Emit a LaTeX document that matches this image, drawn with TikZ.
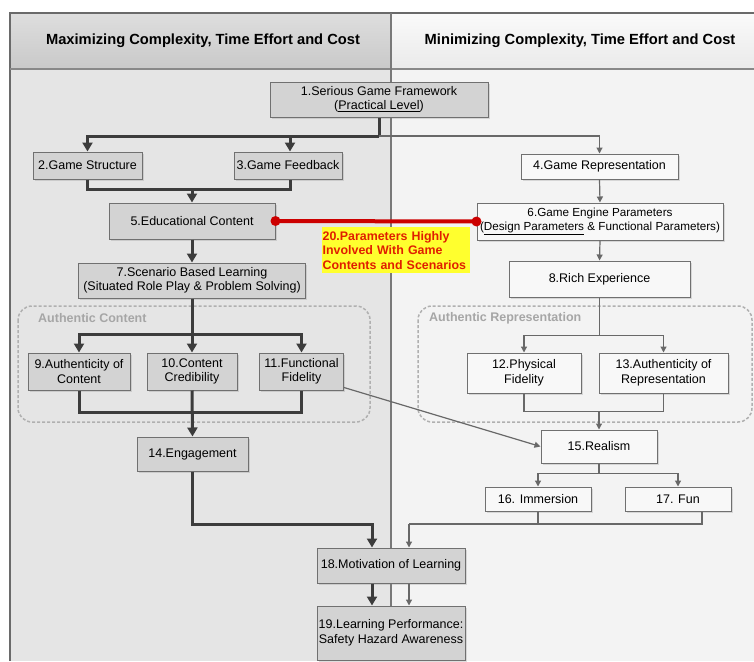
\documentclass[tikz,border=0pt]{standalone}
\usepackage{fontspec}
\setmainfont{Liberation Sans}
\usetikzlibrary{arrows.meta,shadows,calc}
\definecolor{leftbg}{HTML}{E5E5E5}
\definecolor{rightbg}{HTML}{F3F3F3}
\definecolor{lfill}{HTML}{D3D3D3}
\definecolor{rfill}{HTML}{F8F8F8}
\definecolor{boxline}{HTML}{707070}
\definecolor{thkcol}{HTML}{3C3C3C}
\definecolor{thncol}{HTML}{686868}
\definecolor{framecol}{HTML}{6A6A6A}
\definecolor{dashcol}{HTML}{B0B0B0}
\definecolor{grouptext}{HTML}{A6A6A6}
\definecolor{redline}{HTML}{CC0000}
\definecolor{redtext}{HTML}{E01E00}
\definecolor{labelyellow}{HTML}{FFFF2E}
\definecolor{hltop}{HTML}{DEDEDE}
\definecolor{hlbot}{HTML}{C9C9C9}
\definecolor{hrtop}{HTML}{FAFAFA}
\definecolor{hrbot}{HTML}{EAEAEA}
\tikzset{
  basebox/.style={draw=boxline, line width=1pt, inner sep=0pt, align=center,
    font=\fontsize{12.5pt}{14.5pt}\selectfont,
    drop shadow={shadow xshift=1.5pt, shadow yshift=-1.5pt, opacity=0.25}},
  lbox/.style={basebox, fill=lfill},
  rbox/.style={basebox, fill=rfill},
  thk/.style={draw=thkcol, line width=3pt},
  thkarrow/.style={thk, -{Triangle[length=9pt,width=10pt]}},
  thn/.style={draw=thncol, line width=1.2pt},
  thnarrow/.style={thn, -{Triangle[length=6pt,width=6pt]}},
  groupbox/.style={draw=dashcol, line width=1.5pt, dash pattern=on 3pt off 2pt, rounded corners=14pt},
  grouplabel/.style={anchor=west, text=grouptext, font=\fontsize{12.5pt}{14pt}\selectfont\bfseries, inner sep=0pt},
  headtext/.style={font=\fontsize{14.7pt}{16pt}\selectfont\bfseries, inner sep=0pt}
}
\begin{document}
\begin{tikzpicture}[x=1pt,y=-1pt]
\useasboundingbox (0,0) rectangle (754,661);
% panels
\fill[white] (0,0) rectangle (754,661);
\fill[leftbg] (10,69) rectangle (391,661);
\fill[rightbg] (391,69) rectangle (754,661);
\shade[top color=hltop, bottom color=hlbot] (10,13) rectangle (391,69);
\shade[top color=hrtop, bottom color=hrbot] (391,13) rectangle (754,69);
\draw[framecol, line width=1.5pt] (10,661) -- (10,13) -- (754,13);
\draw[framecol!80, line width=1.2pt] (10,69) -- (754,69);
\draw[framecol!90, line width=1.5pt] (391,13) -- (391,661);
\node[headtext] (hl) at (203,41) {Maximizing Complexity, Time Effort and Cost};
\node[headtext] (hr) at (580,41) {Minimizing Complexity, Time Effort and Cost};
% groups
\draw[groupbox] (18,306) rectangle (370,422);
\node[grouplabel] (gl) at (38,318) {Authentic Content};
\draw[groupbox] (418,306) rectangle (752,422);
\node[grouplabel] (gr) at (429,318) {Authentic Representation};
% nodes
\node[lbox, minimum width=218pt, minimum height=35pt] (n1) at (379,99.5) {1.Serious Game Framework\\(\underline{Practical Level})};
\node[lbox, minimum width=109pt, minimum height=27pt] (n2) at (87.5,165.5) {2.Game Structure};
\node[lbox, minimum width=108pt, minimum height=27pt] (n3) at (288,165.5) {3.Game Feedback};
\node[rbox, minimum width=157pt, minimum height=25pt] (n4) at (599.5,166.5) {4.Game Representation};
\node[lbox, minimum width=166pt, minimum height=36pt] (n5) at (192,221) {5.Educational Content};
\node[rbox, minimum width=246pt, minimum height=37pt, font=\fontsize{11.7pt}{14pt}\selectfont] (n6) at (600,221.5) {6.Game Engine Parameters\\(\underline{Design Parameters} \& Functional Parameters)};
\node[lbox, minimum width=227pt, minimum height=35pt] (n7) at (192,280.5) {7.Scenario Based Learning\\(Situated Role Play \& Problem Solving)};
\node[rbox, minimum width=181pt, minimum height=36pt] (n8) at (599.5,279) {8.Rich Experience};
\node[lbox, minimum width=102pt, minimum height=37pt] (n9) at (79,371.5) {9.Authenticity of\\Content};
\node[lbox, minimum width=90pt, minimum height=37pt] (n10) at (192,371.5) {10.Content\\Credibility};
\node[lbox, minimum width=84pt, minimum height=37pt] (n11) at (301.5,371.5) {11.Functional\\Fidelity};
\node[rbox, minimum width=114pt, minimum height=40pt] (n12) at (524,373) {12.Physical\\Fidelity};
\node[rbox, minimum width=129pt, minimum height=40pt] (n13) at (663.5,373) {13.Authenticity of\\Representation};
\node[lbox, minimum width=111pt, minimum height=34pt] (n14) at (192.5,454) {14.Engagement};
\node[rbox, minimum width=116pt, minimum height=33pt] (n15) at (599,446.5) {15.Realism};
\node[rbox, minimum width=106pt, minimum height=24pt] (n16) at (538,499) {16. Immersion};
\node[rbox, minimum width=106pt, minimum height=24pt] (n17) at (678,499) {17. Fun};
\node[lbox, minimum width=148pt, minimum height=35pt] (n18) at (391,565.5) {18.Motivation of Learning};
\node[lbox, minimum width=148pt, minimum height=54pt] (n19) at (391,633) {19.Learning Performance:\\Safety Hazard Awareness};
% label 20
\node[fill=labelyellow, text=redtext, align=left, anchor=north west, inner xsep=0.5pt, inner ysep=2pt,
  minimum height=46pt, text width=147pt,
  font=\fontsize{12.4pt}{14.5pt}\selectfont\bfseries] (lab20) at (322,227)
  {20.Parameters Highly\\Involved With Game\\Contents and Scenarios};
% left thick connectors
\draw[thk] (n1.south) -- ++(0,18.5) coordinate (j1);
\draw[thnarrow] (j1) -| (n4.north);
\draw[thkarrow] (j1) -| (n2.north);
\draw[thkarrow] (j1) -| ([xshift=2pt]n3.north);
\draw[thk] (n2.south) -- ++(0,10) coordinate (j2) -| ([xshift=2pt]n3.south);
\draw[thkarrow] (j2 -| n5.north) -- (n5.north);
\draw[thkarrow] (n5.south) -- (n7.north);
\draw[thk] (n7.south) -- ++(0,36) coordinate (j3);
\draw[thkarrow] (j3) -| (n9.north);
\draw[thkarrow] (j3) -| (n11.north);
\draw[thkarrow] (j3) -- (n10.north);
\draw[thk] (n9.south) -- ++(0,22) coordinate (j4) -| (n11.south);
\draw[thkarrow] (n10.south) -- (n14.north);
\coordinate (j5) at (372,524);
\draw[thkarrow] (n14.south) |- (j5) -- (j5 |- n18.north);
\draw[thkarrow] (j5 |- n18.south) -- (j5 |- n19.north);
% right thin connectors
\draw[thnarrow] (n4.south) -- (n6.north);
\draw[thnarrow] (n6.south) -- (n8.north);
\draw[thn] (n8.south) -- ++(0,38) coordinate (j6);
\draw[thnarrow] (j6) -| (n12.north);
\draw[thnarrow] (j6) -| (n13.north);
\draw[thn] (n12.south) -- ++(0,18) coordinate (j7) -| (n13.south);
\draw[thnarrow] (j7 -| n15.north) -- (n15.north);
\draw[thnarrow] ([yshift=3pt]n11.south east) -- (n15.west);
\draw[thn] (n15.south) -- ++(0,10) coordinate (j8);
\draw[thnarrow] (j8) -| (n16.north);
\draw[thnarrow] (j8) -| (n17.north);
\coordinate (j9) at (409,524);
\draw[thn] (n16.south) |- (j9);
\draw[thn] ([xshift=24pt]n17.south) |- (j9);
\draw[thnarrow] (j9) -- (j9 |- n18.north);
\draw[thnarrow] (j9 |- n18.south) -- (j9 |- n19.north);
% red link
\draw[redline, line width=4pt] (n5.east) -- (n6.west);
\fill[redline] (n5.east) circle (5pt);
\fill[redline] (n6.west) circle (5pt);
\end{tikzpicture}
\end{document}
